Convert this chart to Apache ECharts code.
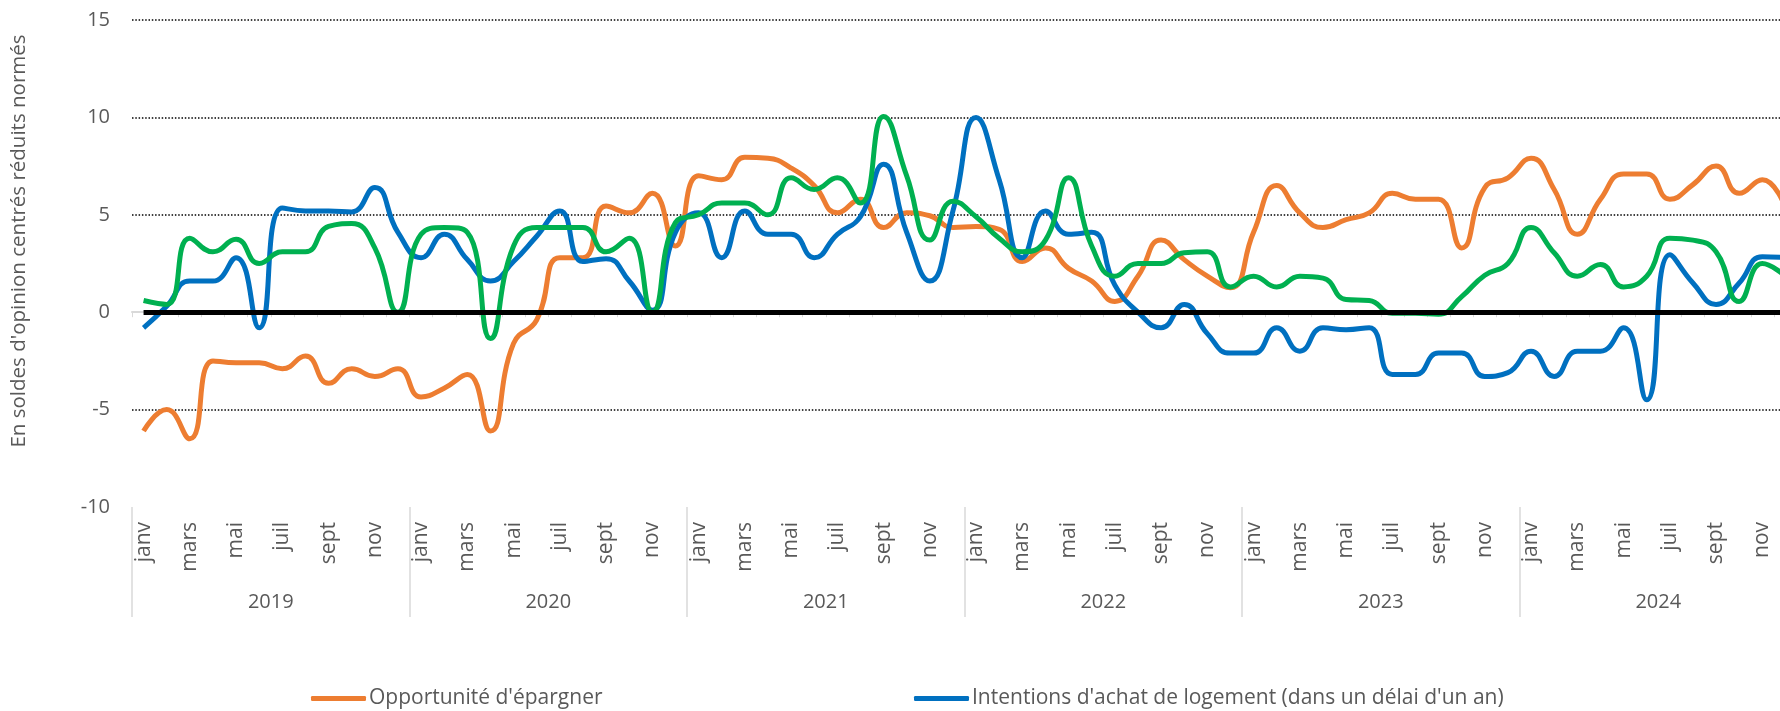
<!DOCTYPE html>
<html>
<head>
<meta charset="utf-8">
<script src="https://cdn.jsdelivr.net/npm/echarts@6/dist/echarts.min.js"></script>
<style>
  html, body { margin: 0; padding: 0; background: #fff; }
  #chart { width: 1780px; height: 711px; }
</style>
</head>
<body>
<div id="chart"></div>
<script>
// années et mois de l'axe
var annees = ['2019', '2020', '2021', '2022', '2023', '2024'];
var mois = ['janv', 'févr', 'mars', 'avr', 'mai', 'juin', 'juil', 'août', 'sept', 'oct', 'nov', 'déc'];

// séries
var epargner = [
    -6.1, -5.0, -6.5, -2.5, -2.6, -2.6, -2.9, -2.25, -3.65, -2.9, -3.3, -2.9,
    -4.35, -3.9, -3.2, -6.1, -1.6, -0.4, 2.8, 2.8, 5.45, 5.1, 6.1, 3.4,
    7.0, 6.8, 7.95, 7.9, 7.4, 6.5, 5.1, 5.8, 4.35, 5.1, 4.95, 4.35,
    4.4, 4.25, 2.6, 3.3, 2.25, 1.6, 0.55, 1.85, 3.7, 2.7, 1.85, 1.25,
    4.1, 6.5, 5.1, 4.35, 4.75, 5.1, 6.1, 5.8, 5.8, 3.3, 6.4, 6.9,
    7.9, 6.3, 4.0, 5.8, 7.1, 7.1, 5.8, 6.55, 7.5, 6.1, 6.8, 5.35
];
var achatLogement = [
    -0.8, 0.3, 1.6, 1.6, 2.8, -0.8, 5.35, 5.2, 5.2, 5.15, 6.4, 4.1,
    2.8, 4.0, 2.7, 1.6, 2.6, 3.9, 5.2, 2.6, 2.75, 1.6, 0.1, 4.1,
    5.1, 2.8, 5.2, 4.0, 4.0, 2.8, 4.0, 4.9, 7.6, 4.1, 1.6, 5.2,
    10.0, 6.8, 2.8, 5.2, 4.0, 4.1, 1.4, 0.0, -0.8, 0.4, -1.1, -2.1,
    -2.1, -0.8, -2.0, -0.8, -0.9, -0.8, -3.2, -3.2, -2.1, -2.1, -3.3, -3.1,
    -2.0, -3.3, -2.0, -2.0, -0.8, -4.5, 2.95, 1.5, 0.4, 1.5, 2.85, 2.8
];
var troisieme = [
    0.6, 0.4, 3.8, 3.1, 3.75, 2.5, 3.1, 3.1, 4.4, 4.55, 3.3, 0.0,
    4.0, 4.35, 4.1, -1.35, 3.4, 4.35, 4.35, 4.35, 3.1, 3.8, 0.0, 4.6,
    5.0, 5.6, 5.6, 5.0, 6.9, 6.3, 6.9, 5.6, 10.05, 7.0, 3.7, 5.7,
    4.9, 3.8, 3.1, 3.7, 6.9, 3.4, 1.85, 2.5, 2.5, 3.05, 3.1, 1.3,
    1.85, 1.3, 1.85, 1.75, 0.65, 0.6, -0.05, -0.05, -0.1, 0.8, 1.9, 2.5,
    4.35, 3.05, 1.85, 2.45, 1.3, 1.85, 3.8, 3.7, 3.1, 0.55, 2.5, 1.85
];

var nomEpargner = "Opportunité d'épargner";
var nomAchat = "Intentions d'achat de logement (dans un délai d'un an)";
var nomTroisieme = 'Série 3';

// une catégorie par mois : "2019-janv" ...
var categories = [];
annees.forEach(function (a) {
    mois.forEach(function (m) { categories.push(a + '-' + m); });
});

var font = '"Open Sans", sans-serif';
var gris = '#595959';

var myChart = echarts.init(document.getElementById('chart'));

var option = {
    animation: false,
    backgroundColor: '#fff',
    textStyle: { fontFamily: font },
    // le graphique déborde à droite (déc. 2024 coupé)
    grid: { left: 132, right: -17, top: 20, bottom: 204, outerBoundsMode: 'none', containLabel: false },
    graphic: [{
        type: 'text',
        x: 19,
        y: 241,
        rotation: Math.PI / 2,
        style: {
            text: "En soldes d'opinion centrés réduits normés",
            fontFamily: font,
            fontSize: 20.5,
            fill: gris,
            align: 'center',
            verticalAlign: 'middle'
        }
    }],
    legend: [{
        data: [nomEpargner],
        left: 306,
        top: 683,
        icon: 'roundRect',
        itemWidth: 55,
        itemHeight: 5,
        itemGap: 5,
        textStyle: { fontFamily: font, fontSize: 21, color: gris, padding: [0, 0, 0, -2] }
    }, {
        data: [nomAchat],
        left: 909,
        top: 683,
        icon: 'roundRect',
        itemWidth: 55,
        itemHeight: 5,
        textStyle: { fontFamily: font, fontSize: 21, color: gris, padding: [0, 0, 0, -2] }
    }],
    xAxis: [{
        type: 'category',
        data: categories,
        boundaryGap: true,
        axisLine: { lineStyle: { color: '#d9d9d9', width: 2 } },
        axisTick: { show: true, interval: 0, length: 5, lineStyle: { color: '#d9d9d9' } },
        axisLabel: {
            interval: 1,
            rotate: 90,
            margin: 15,
            fontFamily: font,
            fontSize: 21,
            color: gris,
            formatter: function (v) { return v.split('-')[1]; }
        },
        splitLine: { show: false }
    }, {
        type: 'category',
        data: annees,
        position: 'bottom',
        boundaryGap: true,
        axisLine: { show: false },
        axisTick: { show: true, interval: 0, length: 110, lineStyle: { color: '#d9d9d9', width: 1.5 } },
        axisLabel: { interval: 0, margin: 85, fontFamily: font, fontSize: 20, color: gris },
        splitLine: { show: false }
    }],
    yAxis: {
        type: 'value',
        min: -10,
        max: 15,
        interval: 5,
        axisLine: { show: false },
        axisTick: { show: false },
        axisLabel: { margin: 22, fontFamily: font, fontSize: 20, color: gris },
        splitLine: { showMinLine: false, lineStyle: { color: '#000', type: [1.5, 1.8], width: 1.5 } }
    },
    series: [{
        // ligne du zéro
        type: 'line',
        z: 1,
        data: [],
        silent: true,
        markLine: {
            silent: true,
            symbol: ['none', 'none'],
            label: { show: false },
            lineStyle: { color: '#000', width: 5, type: 'solid' },
            data: [[{ coord: [0, 0] }, { coord: [categories.length - 1, 0] }]]
        }
    }, {
        name: nomEpargner,
        type: 'line',
        z: 3,
        smooth: 0.5,
        symbol: 'none',
        lineStyle: { width: 5, color: '#ED7D31' },
        itemStyle: { color: '#ED7D31' },
        data: epargner
    }, {
        name: nomAchat,
        type: 'line',
        z: 3,
        smooth: 0.5,
        symbol: 'none',
        lineStyle: { width: 5, color: '#0070C0' },
        itemStyle: { color: '#0070C0' },
        data: achatLogement
    }, {
        name: nomTroisieme,
        type: 'line',
        z: 3,
        smooth: 0.5,
        symbol: 'none',
        lineStyle: { width: 5, color: '#00B050' },
        itemStyle: { color: '#00B050' },
        data: troisieme
    }]
};

myChart.setOption(option);
</script>
</body>
</html>
